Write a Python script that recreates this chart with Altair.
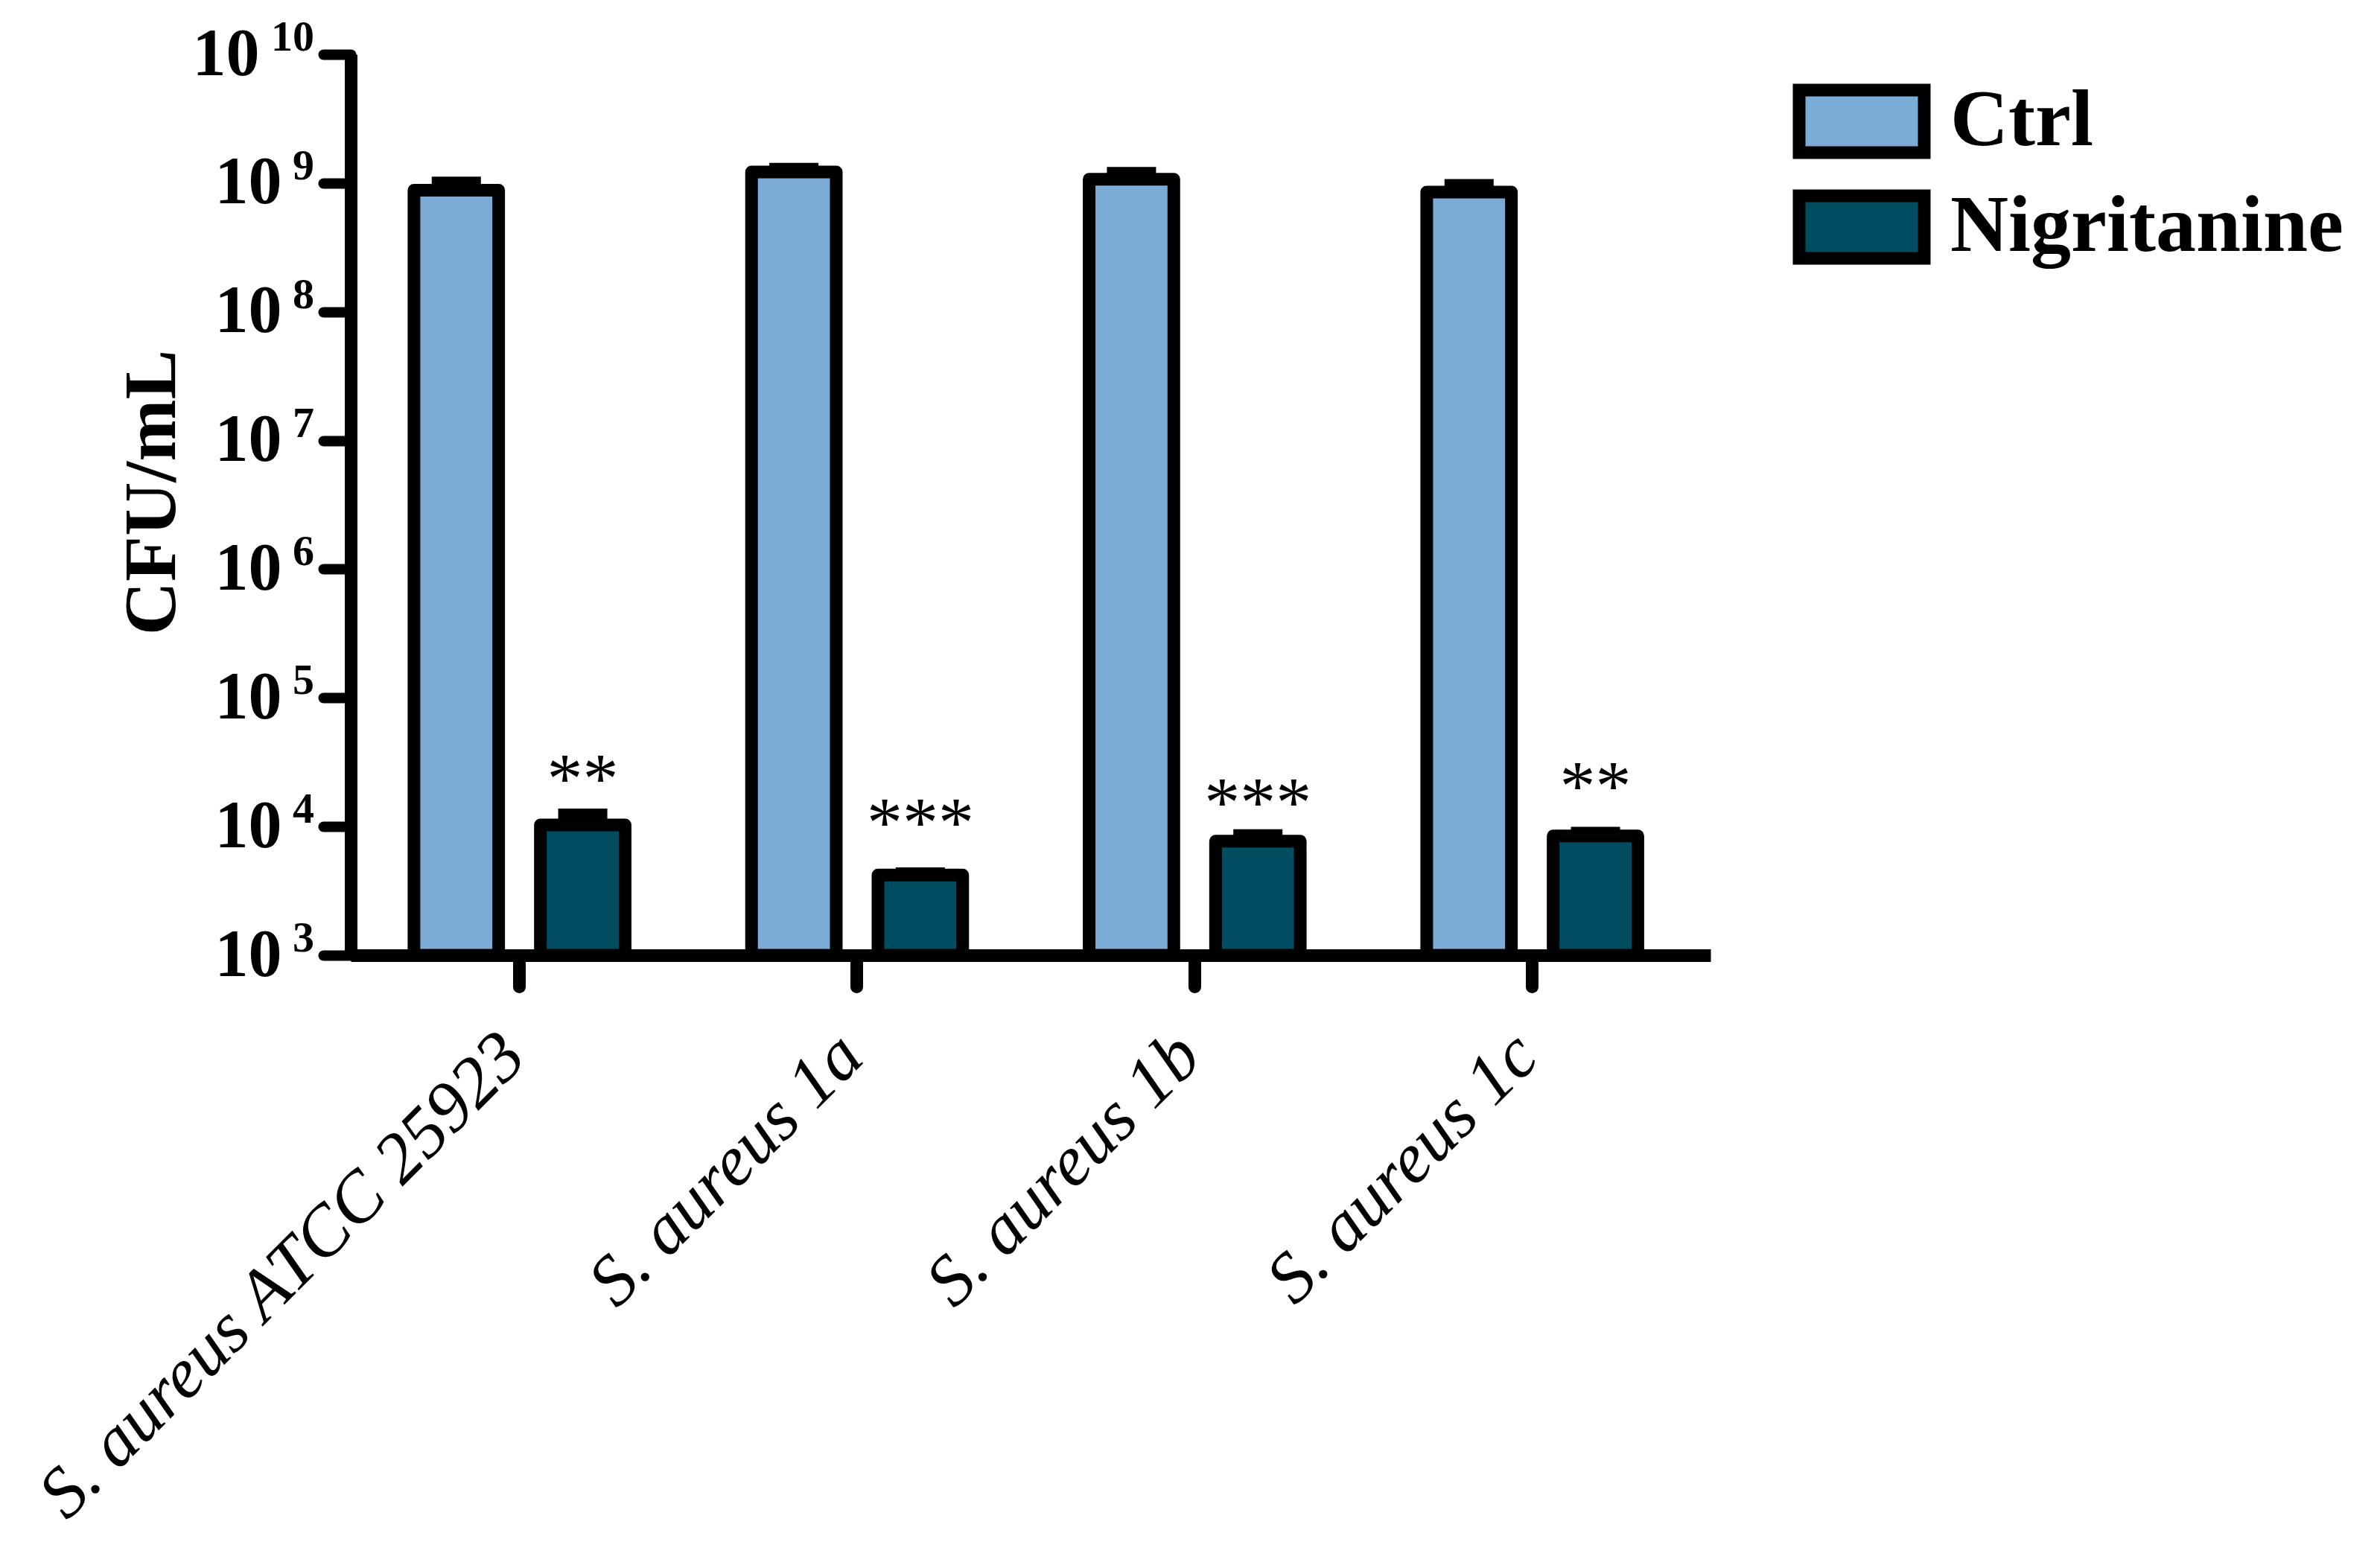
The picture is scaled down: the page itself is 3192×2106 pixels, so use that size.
import json
import altair as alt
import pandas as pd

# ---- data ----
strains = ["S. aureus ATCC 25923", "S. aureus 1a", "S. aureus 1b", "S. aureus 1c"]
groups = ["Ctrl", "Nigritanine"]
ctrl_mean = [8.8e8, 1.22e9, 1.07e9, 8.5e8]
ctrl_upper = [1.0e9, 1.28e9, 1.19e9, 9.6e8]
nig_mean = [1.03e4, 4.2e3, 7.7e3, 8.45e3]
nig_upper = [1.23e4, 4.3e3, 8.5e3, 8.9e3]
stars = ["**", "***", "***", "**"]
star_pos = [1.54e4, 7.0e3, 1.0e4, 1.35e4]
y_ticks = [1e3, 1e4, 1e5, 1e6, 1e7, 1e8, 1e9, 1e10]
y_tick_base = ["10", "10", "10", "10", "10", "10", "10", "10"]
y_tick_exp = ["3", "4", "5", "6", "7", "8", "9", "10"]
colors = ["#7BACD6", "#004D62"]

rows = []
for i, s in enumerate(strains):
    rows.append({"strain": s, "group": groups[0], "mean": ctrl_mean[i], "upper": ctrl_upper[i]})
    rows.append({"strain": s, "group": groups[1], "mean": nig_mean[i], "upper": nig_upper[i]})
df = pd.DataFrame(rows)
star_df = pd.DataFrame({"strain": strains, "group": [groups[1]] * 4, "pos": star_pos, "label": stars})
exp_df = pd.DataFrame({"tick": y_ticks, "exp": y_tick_exp})

SERIF = "Liberation Serif"
label_expr = json.dumps(y_tick_base, ensure_ascii=False) + "[round(log(datum.value)/LN10) - 3]"

x_enc = alt.X("strain:N", sort=strains,
              scale=alt.Scale(paddingInner=0, paddingOuter=0.014, align=0),
              axis=alt.Axis(title=None, labelAngle=-45, labelAlign="right", labelBaseline="middle",
                            labelFont=SERIF, labelFontStyle="italic", labelFontSize=96,
                            labelColor="black", labelPadding=78, labelOffset=-8,
                            tickSize=42, tickWidth=17,
                            tickColor="black", tickCap="round", domainColor="black",
                            domainWidth=17, labelLimit=2000))
xo_enc = alt.XOffset("group:N", sort=groups, scale=alt.Scale(paddingInner=0.33, paddingOuter=0.5))
y_scale = alt.Scale(type="log", domain=[1e3, 1e10], nice=False)

bars = alt.Chart(df).mark_bar(stroke="black", strokeWidth=17, strokeJoin="round").encode(
    x=x_enc,
    xOffset=xo_enc,
    y=alt.Y("mean:Q", scale=y_scale,
            axis=alt.Axis(title="CFU/mL", values=y_ticks, labelExpr=label_expr,
                          labelFont=SERIF, labelFontWeight="bold", labelFontSize=90,
                          labelColor="black",
                          labelPadding={"condition": {"test": "datum.value > 5e9", "value": 86},
                                        "value": 56},
                          tickSize=37, tickWidth=14,
                          tickColor="black", tickCap="round", domainColor="black",
                          domainWidth=17, grid=False,
                          titleFont=SERIF, titleFontWeight="bold", titleFontSize=100,
                          titleColor="black", titleX=-237, titleY=588, titleAngle=-90,
                          titleAlign="center", titleBaseline="alphabetic")),
    y2=alt.Y2Datum(1000),
    color=alt.Color("group:N", sort=groups, scale=alt.Scale(domain=groups, range=colors),
                    legend=alt.Legend(title=None, orient="none", legendX=1975, legendY=36,
                                      symbolType="M-2,-1H2V1H-2Z", symbolSize=7056,
                                      symbolStrokeColor="black", symbolStrokeWidth=17,
                                      symbolOpacity=1, labelFont=SERIF, labelFontSize=108,
                                      labelFontWeight="bold", labelColor="black",
                                      labelOffset=65, rowPadding=-10, padding=0,
                                      labelLimit=2000)),
)

err_line = alt.Chart(df).mark_rule(color="black", strokeWidth=17).encode(
    x=alt.X("strain:N", sort=strains),
    xOffset=alt.XOffset("group:N", sort=groups),
    y=alt.Y("mean:Q", scale=y_scale),
    y2="upper:Q",
)

err_cap = alt.Chart(df).mark_tick(color="black", orient="horizontal", thickness=17, size=66,
                                  opacity=1).encode(
    x=alt.X("strain:N", sort=strains),
    xOffset=alt.XOffset("group:N", sort=groups),
    y=alt.Y("upper:Q", scale=y_scale),
)

star_text = alt.Chart(star_df).mark_text(font=SERIF, fontSize=96, color="black",
                                         baseline="alphabetic", align="center").encode(
    x=alt.X("strain:N", sort=strains),
    xOffset=alt.XOffset("group:N", sort=groups),
    y=alt.Y("pos:Q", scale=y_scale),
    text="label:N",
)

# superscript exponents of the y tick labels, placed at the tick values
exp_text = alt.Chart(exp_df).mark_text(font=SERIF, fontSize=58, fontWeight="bold", color="black",
                                       baseline="alphabetic", align="right", dy=-5).encode(
    x=alt.value(-49),
    y=alt.Y("tick:Q", scale=y_scale),
    text="exp:N",
)

chart = alt.layer(bars, err_line, err_cap, star_text, exp_text).properties(
    width=1826, height=1210,
    autosize=alt.AutoSizeParams(type="none"),
    padding={"left": 463, "top": 65, "right": 880, "bottom": 800},
).configure_view(stroke=None)

chart.save("out.html", embed_options={"renderer": "svg", "actions": False})
